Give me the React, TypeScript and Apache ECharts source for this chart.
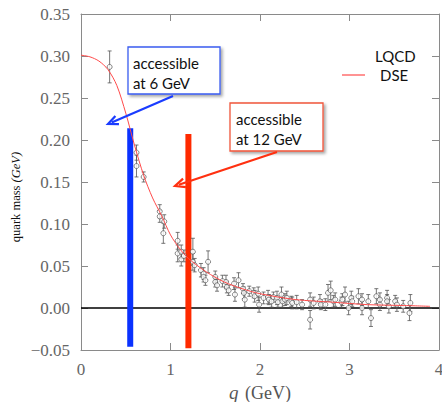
import React, { useEffect, useRef } from "react";
import * as echarts from "echarts";

// DSE curve
const dseQ = [0, 0.1, 0.2, 0.3, 0.4, 0.5, 0.6, 0.7, 0.8, 0.9, 1.0, 1.1, 1.2, 1.4, 1.6, 1.8, 2.0, 2.4, 2.8, 3.2, 3.6, 3.9];
const dseM = [0.301, 0.299, 0.294, 0.284, 0.265, 0.232, 0.193, 0.158, 0.131, 0.110, 0.087, 0.071, 0.059, 0.043, 0.031, 0.023, 0.017, 0.010, 0.007, 0.004, 0.003, 0.002];

// LQCD points
const lqcdQ = [0.32, 0.62, 0.62, 0.70, 0.88, 0.88, 0.93, 0.92, 1.08, 1.08, 1.12, 1.12, 1.15, 1.25, 1.25, 1.27, 1.34, 1.37, 1.37, 1.39, 1.42, 1.50, 1.50, 1.52, 1.58, 1.62, 1.63, 1.65, 1.71, 1.72, 1.76, 1.81, 1.82, 1.83, 1.88, 1.93, 1.94, 1.98, 1.99, 2.04, 2.09, 2.10, 2.13, 2.15, 2.19, 2.20, 2.24, 2.25, 2.28, 2.30, 2.35, 2.36, 2.41, 2.47, 2.56, 2.56, 2.60, 2.67, 2.68, 2.73, 2.76, 2.79, 2.82, 2.84, 2.91, 2.92, 2.95, 2.99, 3.02, 3.03, 3.10, 3.14, 3.14, 3.21, 3.24, 3.30, 3.34, 3.34, 3.42, 3.42, 3.44, 3.51, 3.53, 3.60, 3.68, 3.67];
const lqcdM = [0.287, 0.185, 0.169, 0.156, 0.115, 0.109, 0.103, 0.089, 0.080, 0.065, 0.067, 0.058, 0.062, 0.067, 0.055, 0.051, 0.045, 0.041, 0.037, 0.033, 0.055, 0.037, 0.031, 0.027, 0.032, 0.031, 0.025, 0.021, 0.029, 0.016, 0.033, 0.023, 0.018, 0.010, 0.020, 0.018, 0.014, 0.017, 0.004, 0.012, 0.013, 0.010, 0.008, 0.013, 0.012, 0.007, 0.016, 0.008, 0.010, 0.012, 0.008, 0.006, 0.007, 0.004, 0.010, -0.014, 0.006, 0.008, 0.004, 0.004, 0.018, 0.021, 0.008, 0.010, 0.007, 0.010, 0.016, 0.000, 0.012, 0.008, 0.014, 0.010, 0.000, 0.008, -0.012, 0.014, 0.010, 0.004, 0.012, 0.008, 0.002, 0.008, 0.004, 0.002, 0.006, -0.006];
const lqcdErr = [0.019, 0.009, 0.013, 0.006, 0.008, 0.007, 0.008, 0.012, 0.010, 0.010, 0.008, 0.008, 0.007, 0.016, 0.010, 0.008, 0.008, 0.007, 0.006, 0.006, 0.013, 0.007, 0.006, 0.007, 0.007, 0.008, 0.007, 0.006, 0.007, 0.008, 0.009, 0.006, 0.007, 0.009, 0.006, 0.006, 0.007, 0.008, 0.009, 0.007, 0.008, 0.006, 0.007, 0.006, 0.008, 0.006, 0.009, 0.007, 0.007, 0.008, 0.006, 0.007, 0.008, 0.006, 0.008, 0.011, 0.007, 0.008, 0.006, 0.007, 0.010, 0.011, 0.007, 0.008, 0.006, 0.007, 0.009, 0.008, 0.008, 0.006, 0.009, 0.007, 0.008, 0.008, 0.010, 0.009, 0.008, 0.007, 0.009, 0.008, 0.008, 0.007, 0.008, 0.007, 0.010, 0.009];

// Accessible ranges (vertical bars)
const bar6Q = 0.55;
const bar6Range = [-0.046, 0.214];
const bar12Q = 1.2;
const bar12Range = [-0.048, 0.207];

const xTicks = [0, 1, 2, 3, 4];
const yMin = -0.05;
const yMax = 0.35;

function arrow(x1: number, y1: number, x2: number, y2: number, color: string) {
  const dx = x2 - x1, dy = y2 - y1;
  const len = Math.sqrt(dx * dx + dy * dy);
  const ux = dx / len, uy = dy / len;
  const px = -uy, py = ux;
  const L = 10, W = 4.5;
  const bx = x2 - ux * L, by = y2 - uy * L;
  return [
    { type: "line", shape: { x1, y1, x2: x2 - ux * 4, y2: y2 - uy * 4 }, style: { stroke: color, lineWidth: 2.2 }, z: 100 },
    {
      type: "polyline",
      shape: { points: [[bx + px * W, by + py * W], [x2, y2], [bx - px * W, by - py * W]] },
      style: { stroke: color, lineWidth: 2.2, fill: null },
      z: 100,
    },
  ];
}

export default function App() {
  const ref = useRef<HTMLDivElement>(null);
  useEffect(() => {
    const chart = echarts.init(ref.current!, null, { renderer: "svg" });
    const pts = lqcdQ.map((q, i) => [q, lqcdM[i], lqcdErr[i]]);
    const serif = "Liberation Serif";
    const sans = "Lato";
    const axisGray = "#8a8a8a";
    const labelGray = "#666";
    const frameAxis = (extra: any) => ({
      type: "value",
      axisLine: { show: true, onZero: false, lineStyle: { color: axisGray, width: 1 } },
      axisTick: { inside: true, length: 7, lineStyle: { color: axisGray } },
      splitLine: { show: false },
      ...extra,
    });
    chart.setOption({
      animation: false,
      backgroundColor: "#fff",
      grid: { left: 81, right: 3, top: 14, bottom: 52, containLabel: false, outerBoundsMode: "none" },
      xAxis: [
        frameAxis({
          min: 0,
          max: 4,
          interval: 1,
          name: "{i|q}  {n|(GeV)}",
          nameLocation: "middle",
          nameGap: 24,
          nameTextStyle: {
            lineHeight: 20,
            rich: {
              i: { fontFamily: serif, fontStyle: "italic", fontSize: 19, color: "#555", lineHeight: 20 },
              n: { fontFamily: serif, fontSize: 18, color: "#555", lineHeight: 20 },
            },
          },
          axisLabel: {
            fontFamily: serif,
            fontSize: 17,
            color: labelGray,
            margin: 11,
            formatter: (v: number) => (xTicks.includes(v) ? String(v) : ""),
          },
        }),
        frameAxis({
          position: "top",
          min: 0,
          max: 4,
          interval: 1,
          axisLabel: { show: false },
        }),
      ],
      yAxis: [
        frameAxis({
          min: yMin,
          max: yMax,
          interval: 0.05,
          axisLabel: {
            fontFamily: serif,
            fontSize: 17,
            color: labelGray,
            margin: 11,
            formatter: (v: number) => {
              const s = Math.abs(v).toFixed(2);
              return v < -1e-9 ? "\u2212" + s : s;
            },
          },
        }),
        frameAxis({
          position: "right",
          min: yMin,
          max: yMax,
          interval: 0.05,
          axisLabel: { show: false },
        }),
      ],
      series: [
        {
          name: "zero",
          type: "line",
          data: [[0, 0], [4, 0]],
          showSymbol: false,
          lineStyle: { color: "#000", width: 1.3 },
          z: 3,
          silent: true,
        },
        {
          name: "accessible at 6 GeV",
          type: "line",
          data: [[bar6Q, bar6Range[0]], [bar6Q, bar6Range[1]]],
          showSymbol: false,
          lineStyle: { color: "#0a32ff", width: 6 },
          z: 4,
        },
        {
          name: "accessible at 12 GeV",
          type: "line",
          data: [[bar12Q, bar12Range[0]], [bar12Q, bar12Range[1]]],
          showSymbol: false,
          lineStyle: { color: "#ff2a00", width: 6 },
          z: 4,
        },
        {
          name: "LQCD err",
          type: "custom",
          data: pts,
          z: 5,
          renderItem: (params: any, api: any) => {
            const q = api.value(0), m = api.value(1), e = api.value(2);
            const top = api.coord([q, m + e]);
            const bot = api.coord([q, m - e]);
            const c = 2;
            const st = { stroke: "#555", lineWidth: 0.8 };
            return {
              type: "group",
              children: [
                { type: "line", shape: { x1: top[0], y1: top[1], x2: bot[0], y2: bot[1] }, style: st },
                { type: "line", shape: { x1: top[0] - c, y1: top[1], x2: top[0] + c, y2: top[1] }, style: st },
                { type: "line", shape: { x1: bot[0] - c, y1: bot[1], x2: bot[0] + c, y2: bot[1] }, style: st },
              ],
            };
          },
        },
        {
          name: "LQCD",
          type: "scatter",
          data: pts.map((p) => [p[0], p[1]]),
          symbol: "circle",
          symbolSize: 5,
          itemStyle: { color: "#fff", borderColor: "#444", borderWidth: 0.8 },
          z: 6,
        },
        {
          name: "DSE",
          type: "line",
          data: dseQ.map((q, i) => [q, dseM[i]]),
          smooth: 0.3,
          showSymbol: false,
          lineStyle: { color: "#ff4a4a", width: 1 },
          z: 7,
        },
      ],
      graphic: [
        {
          type: "text",
          x: 16,
          y: 197,
          rotation: Math.PI / 2,
          style: {
            text: "{a|quark mass }{b|(GeV)}",
            align: "center",
            verticalAlign: "middle",
            rich: {
              a: { fontFamily: serif, fontSize: 12.5, fill: "#111" },
              b: { fontFamily: serif, fontSize: 12.5, fontStyle: "italic", fill: "#111" },
            },
          },
        },
        // legend
        { type: "text", x: 375, y: 56, style: { text: "LQCD", font: `15px ${sans}`, fill: "#111", verticalAlign: "middle" } },
        { type: "text", x: 380, y: 75, style: { text: "DSE", font: `15px ${sans}`, fill: "#111", verticalAlign: "middle" } },
        { type: "line", shape: { x1: 342, y1: 75, x2: 365, y2: 75 }, style: { stroke: "#ff4a4a", lineWidth: 1.2 } },
        // blue box
        {
          type: "rect",
          shape: { x: 128, y: 47, width: 92, height: 47 },
          style: { fill: "#fff", stroke: "#3a5cf0", lineWidth: 1.3, shadowBlur: 3, shadowOffsetX: 2, shadowOffsetY: 2, shadowColor: "rgba(0,0,0,0.35)" },
          z: 90,
        },
        {
          type: "text",
          x: 133,
          y: 53,
          style: { text: "accessible\nat 6 GeV", font: `15px ${sans}`, fill: "#111", lineHeight: 20 },
          z: 91,
        },
        // red box
        {
          type: "rect",
          shape: { x: 230, y: 103, width: 93, height: 48 },
          style: { fill: "#fff", stroke: "#f0553a", lineWidth: 1.3, shadowBlur: 3, shadowOffsetX: 2, shadowOffsetY: 2, shadowColor: "rgba(0,0,0,0.35)" },
          z: 90,
        },
        {
          type: "text",
          x: 236,
          y: 109,
          style: { text: "accessible\nat 12 GeV", font: `15px ${sans}`, fill: "#111", lineHeight: 20 },
          z: 91,
        },
        ...arrow(173, 96, 108, 124, "#1a3cff"),
        ...arrow(277, 152, 175, 186, "#ff3010"),
      ],
    });
    return () => chart.dispose();
  }, []);
  return <div ref={ref} style={{ position: "fixed", left: 0, top: 0, width: 442, height: 402 }} />;
}
